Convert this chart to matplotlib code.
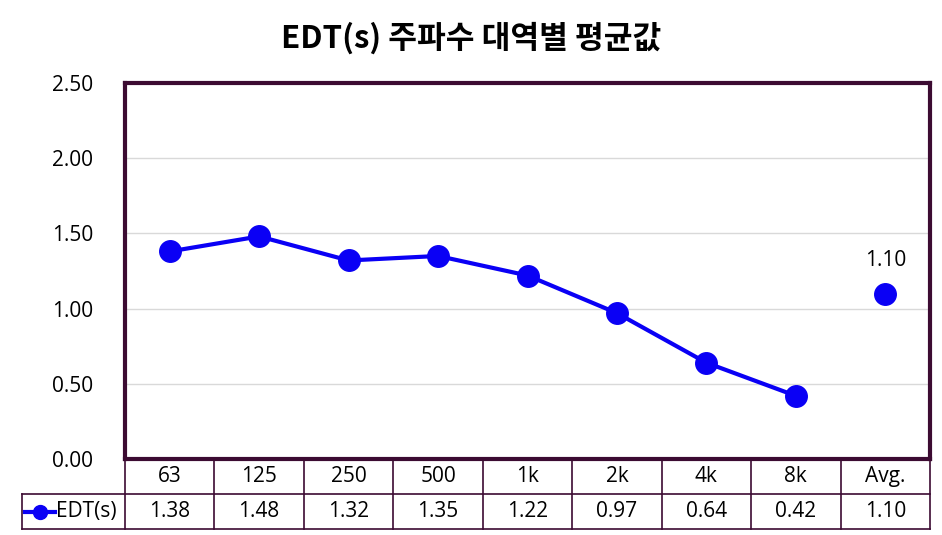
import matplotlib
matplotlib.use("Agg")
import matplotlib.pyplot as plt
from matplotlib.lines import Line2D

plt.rcParams['font.family'] = ['Open Sans', 'Noto Sans CJK KR', 'DejaVu Sans']

# data
bands = ["63", "125", "250", "500", "1k", "2k", "4k", "8k", "Avg."]
edt = [1.38, 1.48, 1.32, 1.35, 1.22, 0.97, 0.64, 0.42]
edt_avg = 1.10
series_name = "EDT(s)"
yticks = [0.0, 0.5, 1.0, 1.5, 2.0, 2.5]

W, H = 942, 535
border = "#3c0b32"
blue = "#0a00f5"
fs = 15

fig = plt.figure(figsize=(W / 100, H / 100), dpi=100)
L, R, T, B = 125, 930, 83, 459
ax = fig.add_axes([L / W, 1 - B / H, (R - L) / W, (B - T) / H])

n = len(bands)
xs = list(range(len(edt)))
ax.plot(xs, edt, color=blue, lw=3, marker="o", ms=15.5, zorder=3)
ax.plot([n - 1], [edt_avg], color=blue, marker="o", ms=15.5, ls="none", zorder=3)
ax.annotate(f"{edt_avg:.2f}", (n - 1, edt_avg), xytext=(0, 16), textcoords="offset points",
            ha="center", va="bottom", fontsize=fs)

ax.set_xlim(-0.5, n - 0.5)
ax.set_ylim(0, 2.5)
ax.set_yticks(yticks)
ax.set_yticklabels([f"{v:.2f}" for v in yticks], fontsize=fs)
ax.tick_params(axis="y", length=0, pad=23)
ax.set_xticks([])
ax.grid(axis="y", color="#d9d9d9", lw=1)
ax.set_axisbelow(True)
for s in ax.spines.values():
    s.set_color(border)
    s.set_linewidth(3)

fig.suptitle("EDT(s) 주파수 대역별 평균값", fontsize=22.5, fontweight="bold",
             family=['Noto Sans CJK KR', 'DejaVu Sans'], y=1 - 38 / H, va="center")

# data table below the plot
tb = fig.add_axes([L / W, 1 - 529 / H, (R - L) / W, (529 - B) / H])
tb.set_xlim(-0.5, n - 0.5)
tb.set_ylim(0, 2)
tb.axis("off")
cw = (R - L) / n
leg_left = -0.5 - (L - 22) / cw
kw = dict(color=border, lw=1.2, clip_on=False)
for i in range(n + 1):
    tb.plot([i - 0.5, i - 0.5], [0, 2], **kw)
tb.plot([leg_left, leg_left], [0, 1], **kw)
tb.plot([leg_left, n - 0.5], [1, 1], **kw)
tb.plot([leg_left, n - 0.5], [0, 0], **kw)
for i, lab in enumerate(bands):
    tb.text(i, 1.5, lab, ha="center", va="center", fontsize=fs)
vals = edt + [edt_avg]
for i, v in enumerate(vals):
    tb.text(i, 0.5, f"{v:.2f}", ha="center", va="center", fontsize=fs)
tb.add_line(Line2D([leg_left + 0.03, leg_left + 0.37], [0.5, 0.5], color=blue, lw=3,
                   clip_on=False))
tb.plot([leg_left + 0.2], [0.5], marker="o", ms=10, color=blue, clip_on=False)
tb.text(leg_left + 0.38, 0.5, series_name, ha="left", va="center", fontsize=fs)

fig.savefig("out.png", dpi=100)
